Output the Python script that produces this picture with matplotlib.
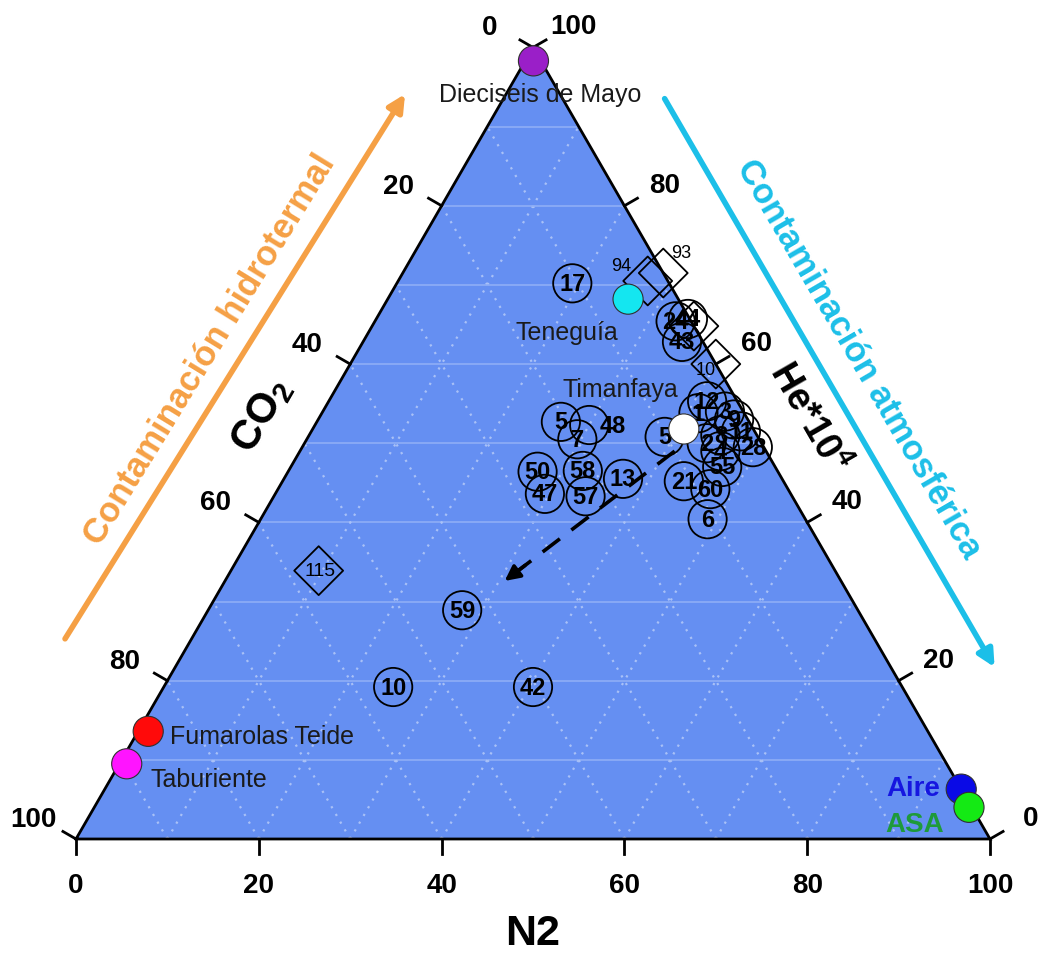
import matplotlib
matplotlib.use("Agg")
import matplotlib.pyplot as plt
import numpy as np

plt.rcParams['font.family'] = ['Liberation Sans', 'DejaVu Sans']

# ---------------------------------------------------------------
# Gas composition (%): He*10^4, N2, CO2
# ---------------------------------------------------------------
circle_labels = ["17", "59", "10", "42", "50", "47", "58", "57", "13",
                 "5", "7", "48", "5", "21", "60", "6", "55", "28",
                 "12", "1", "24", "44", "43",
                 "3", "9", "8", "2", "4", "11"]
circle_he = [70.2, 28.9, 19.2, 19.2, 46.4, 43.6, 46.5, 43.3, 45.5,
             52.7, 50.5, 52.3, 50.8, 45.2, 44.2, 40.4, 47.0, 49.5,
             55.3, 53.8, 65.4, 65.7, 62.8,
             54.0, 53.0, 51.0, 50.0, 49.0, 51.5]
circle_n2 = [19.2, 27.8, 25.1, 40.4, 27.3, 29.5, 32.2, 34.1, 37.1,
             26.7, 29.6, 30.0, 39.0, 43.9, 47.3, 48.9, 47.2, 49.3,
             41.4, 41.2, 32.9, 34.1, 34.9,
             44.0, 45.5, 45.0, 44.0, 46.0, 47.0]
circle_co2 = [10.6, 43.3, 55.7, 40.4, 26.3, 26.9, 21.3, 22.6, 17.4,
              20.6, 19.9, 17.7, 10.2, 10.9, 8.5, 10.7, 5.8, 1.2,
              3.3, 5.0, 1.7, 0.2, 2.3,
              2.0, 1.5, 4.0, 6.0, 5.0, 1.5]

diamond_labels = ["93", "94", "", "10", "115"]
diamond_he = [71.5, 70.5, 64.8, 60.0, 33.9]
diamond_n2 = [28.5, 27.3, 35.2, 40.0, 9.6]
diamond_co2 = [0.0, 2.2, 0.0, 0.0, 56.5]

site_names = ["Dieciseis de Mayo", "Teneguía", "Timanfaya",
              "Fumarolas Teide", "Taburiente", "Aire", "ASA"]
site_he = [98.3, 68.2, 51.8, 13.6, 9.5, 6.3, 4.0]
site_n2 = [0.9, 26.3, 40.6, 1.1, 0.8, 93.7, 95.7]
site_co2 = [0.8, 5.5, 7.6, 85.3, 89.7, 0.0, 0.3]
site_colors = ["#9A1FC8", "#14E6F0", "#FFFFFF", "#FF0A0A",
               "#FF14FF", "#0A0AE6", "#14EA14"]

# dilution trend (start, end) as He, N2, CO2
trend_he = [49.0, 32.6]
trend_n2 = [41.0, 30.6]
trend_co2 = [10.0, 36.8]

tick_values = [0, 20, 40, 60, 80, 100]

H = np.sqrt(3) / 2


def project(he, n2, co2):
    he = np.asarray(he, float)
    n2 = np.asarray(n2, float)
    co2 = np.asarray(co2, float)
    tot = he + n2 + co2
    he = he / tot * 100
    n2 = n2 / tot * 100
    return n2 + he / 2, he * H


# ---------------------------------------------------------------
fig = plt.figure(figsize=(10.39, 9.54), dpi=100)
ax = fig.add_axes([0, 0, 1, 1])
ax.set_xlim(-8.315, 105.36)
ax.set_ylim(-12.47, 91.9)
ax.set_aspect('equal')
ax.axis('off')

# triangle body
tri_x = [0, 100, 50, 0]
tri_y = [0, 0, 100 * H, 0]
ax.fill(tri_x, tri_y, color="#658FF2", zorder=0, lw=0)

# grid: horizontal iso-He lines and dotted diagonals
for v in range(10, 100, 10):
    y = v * H
    ax.plot([v / 2, 100 - v / 2], [y, y], color="#8FAEF6", lw=1.2, zorder=1)
    # iso-N2 lines (parallel to the left edge)
    ax.plot([v, v + (100 - v) / 2], [0, (100 - v) * H],
            color="#A9C1F7", lw=1.6, ls=(0, (1, 3)), zorder=1)
    # iso-CO2 lines (parallel to the right edge)
    ax.plot([100 - v, (100 - v) / 2], [0, (100 - v) * H],
            color="#A9C1F7", lw=1.6, ls=(0, (1, 3)), zorder=1)

ax.plot(tri_x, tri_y, color="black", lw=2.0, zorder=2, solid_joinstyle='miter')

# ticks and tick labels
tl = 1.65
c30, s30 = np.cos(np.radians(30)), np.sin(np.radians(30))
tick_font = dict(fontsize=20, fontweight='bold', ha='center', va='center')
for v in tick_values:
    # N2 (bottom)
    ax.plot([v, v], [0, -tl], color='black', lw=2, zorder=2)
    ax.text(v, -5.0, f"{v}", **tick_font)
    # CO2 (left edge): 0 at top, 100 at the bottom-left corner
    bx, by = (100 - v) / 2, (100 - v) * H
    ax.plot([bx, bx - tl * c30], [by, by + tl * s30], color='black', lw=2, zorder=2)
    ax.text(bx - 4.7, by + 2.2, f"{v}", **tick_font)
    # He (right edge): 100 at top, 0 at the bottom-right corner
    rx, ry = 100 - v / 2, v * H
    ax.plot([rx, rx + tl * c30], [ry, ry + tl * s30], color='black', lw=2, zorder=2)
    ax.text(rx + 4.4, ry + 2.3, f"{v}", **tick_font)

# axis titles
ax.text(50, -10.3, "N2", fontsize=31, fontweight='bold', ha='center', va='center')
ax.text(20.3, 46.4, r"CO$_\mathregular{2}$", fontsize=30, fontweight='bold',
        ha='center', va='center', rotation=60, rotation_mode='anchor')
ax.text(80.1, 46.2, r"He*10$^\mathregular{4}$", fontsize=27, fontweight='bold',
        ha='center', va='center', rotation=-60, rotation_mode='anchor')

# contamination arrows
orange = "#F5A045"
cyan = "#1CBFE8"
ax.annotate("", xy=(36.0, 81.5), xytext=(-1.2, 21.9),
            arrowprops=dict(arrowstyle="-|>,head_length=1.0,head_width=0.5",
                            color=orange, lw=4, shrinkA=0, shrinkB=0))
ax.annotate("", xy=(100.5, 18.8), xytext=(64.4, 81.0),
            arrowprops=dict(arrowstyle="-|>,head_length=1.0,head_width=0.5",
                            color=cyan, lw=4, shrinkA=0, shrinkB=0))
ax.text(14.6, 53.6, "Contaminación hidrotermal", color=orange, fontsize=25,
        fontweight='bold', ha='center', va='center', rotation=58.5,
        rotation_mode='anchor')
ax.text(85.6, 52.6, "Contaminación atmosférica", color=cyan, fontsize=25,
        fontweight='bold', ha='center', va='center', rotation=-59.8,
        rotation_mode='anchor')

# dilution trend arrow
tx, ty = project(trend_he, trend_n2, trend_co2)
ax.plot(tx, ty, color='black', lw=2.6, ls=(0, (6, 4)), zorder=4)
ax.annotate("", xy=(tx[1], ty[1]), xytext=(tx[1] + (tx[0] - tx[1]) * 0.12,
                                           ty[1] + (ty[0] - ty[1]) * 0.12),
            arrowprops=dict(arrowstyle="-|>,head_length=0.9,head_width=0.45",
                            color='black', lw=2.6, shrinkA=0, shrinkB=0),
            zorder=4)

# numbered sample circles
cx, cy = project(circle_he, circle_n2, circle_co2)
ax.scatter(cx, cy, s=760, facecolors='none', edgecolors='black', lw=1.3, zorder=5)
label_shift = {11: (17, 0)}
for i, (x, y, lab) in enumerate(zip(cx, cy, circle_labels)):
    dx, dy = label_shift.get(i, (0, 0))
    ax.annotate(lab, (x, y), xytext=(dx, dy), textcoords='offset points',
                fontsize=17, fontweight='bold', ha='center', va='center', zorder=6)

# diamonds
dx_, dy_ = project(diamond_he, diamond_n2, diamond_co2)
ax.scatter(dx_, dy_, s=620, marker='D', facecolors='none', edgecolors='black',
           lw=1.3, zorder=5)
diamond_text = {0: ((13, 15), 13), 1: ((-19, 11), 13), 3: ((-7, -4), 13),
                4: ((1, 0), 14)}
for i, (x, y, lab) in enumerate(zip(dx_, dy_, diamond_labels)):
    if not lab:
        continue
    off, fs = diamond_text[i]
    ax.annotate(lab, (x, y), xytext=off, textcoords='offset points',
                fontsize=fs, ha='center', va='center', zorder=6)

# reference sites
sx, sy = project(site_he, site_n2, site_co2)
ax.scatter(sx, sy, s=470, c=site_colors, edgecolors='#303030', lw=0.8, zorder=7)
site_text = [
    dict(xytext=(5, -24), ha='center', color='#1A1A1A', fontsize=18),
    dict(xytext=(-44, -24), ha='center', color='#1A1A1A', fontsize=18),
    dict(xytext=(-46, 29), ha='center', color='#1A1A1A', fontsize=18),
    dict(xytext=(16, -3), ha='left', color='#1A1A1A', fontsize=18),
    dict(xytext=(17, -11), ha='left', color='#1A1A1A', fontsize=18),
    dict(xytext=(-15, 1), ha='right', color='#1616E0', fontsize=20, fontweight='bold'),
    dict(xytext=(-18, -12), ha='right', color='#1E9A3A', fontsize=20, fontweight='bold'),
]
for x, y, name, kw in zip(sx, sy, site_names, site_text):
    ax.annotate(name, (x, y), textcoords='offset points', va='center',
                zorder=8, **kw)

fig.savefig("out.png", dpi=100)
